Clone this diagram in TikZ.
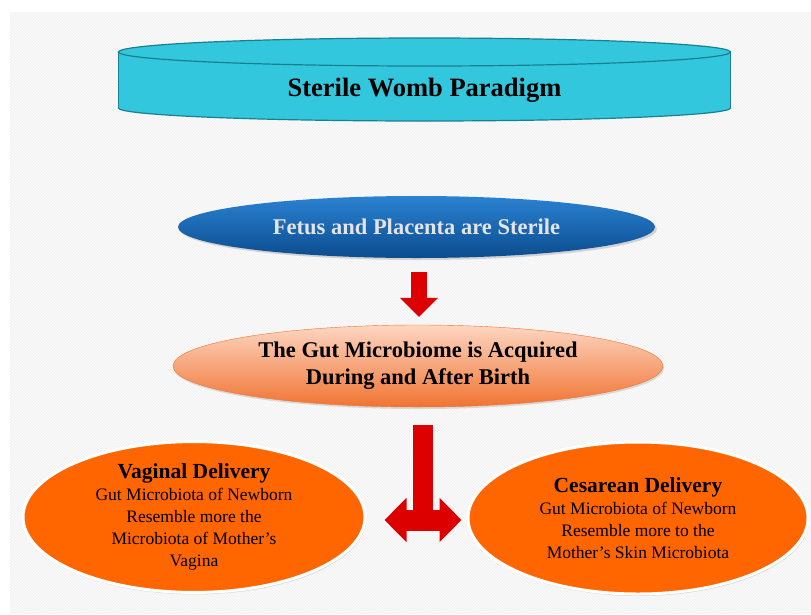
\documentclass[tikz,border=0pt]{standalone}
\usepackage{fontspec}
\setmainfont{Liberation Serif}
\usepackage{tikz}
\usetikzlibrary{shapes.geometric, arrows.meta, positioning, shadows, patterns}
\definecolor{bggray}{HTML}{F3F3F3}
\definecolor{wombcyan}{HTML}{33C7DD}
\definecolor{wombteal}{HTML}{1A7F92}
\definecolor{fetustop}{HTML}{2A82D2}
\definecolor{fetusbottom}{HTML}{0B4C8E}
\definecolor{fetustext}{HTML}{E4E4E4}
\definecolor{gutlight}{HTML}{FDD6C2}
\definecolor{gutorange}{HTML}{F07432}
\definecolor{deliveryorange}{HTML}{FF6600}
\definecolor{arrowred}{HTML}{DD0000}

\begin{document}
\begin{tikzpicture}[x=1pt, y=-1pt,
  oval/.style={ellipse, inner sep=0pt, align=center},
  bighead/.tip={Triangle[length=22pt, width=43pt]},
  deliverybox/.style={oval, fill=deliveryorange, draw=white, line width=3pt,
    drop shadow={opacity=0.25, shadow xshift=1pt, shadow yshift=-2pt},
    font=\fontsize{17.5}{22}\selectfont}]
  \useasboundingbox (0,0) rectangle (811,614);

  % Background
  \fill[white] (0,0) rectangle (811,614);
  \fill[bggray] (10,12) rectangle (811,614);
  \fill[pattern=north west lines, pattern color=white] (10,12) rectangle (811,614);

  % Cylinder
  \filldraw[fill=wombcyan, draw=wombteal, line width=1.2pt] (424.5,108) ellipse [x radius=306, y radius=13];
  \fill[wombcyan] (118.5,52) rectangle (730.5,108);
  \draw[wombteal, line width=1.2pt] (118.5,52) -- (118.5,108);
  \draw[wombteal, line width=1.2pt] (730.5,52) -- (730.5,108);
  \filldraw[fill=wombcyan, draw=wombteal, line width=1.2pt] (424.5,52) ellipse [x radius=306, y radius=14];
  \node[font=\fontsize{26.5}{30}\selectfont\bfseries] (paradigm) at (424.5,90) {Sterile Womb Paradigm};

  % Fetus and placenta
  \node[oval, minimum width=477pt, minimum height=62pt, top color=fetustop, bottom color=fetusbottom,
    drop shadow={opacity=0.3, shadow xshift=2pt, shadow yshift=-2pt},
    text=fetustext, font=\fontsize{22.5}{27}\selectfont\bfseries] (fetus) at (416.5,227) {Fetus and Placenta are Sterile};

  % Gut microbiome
  \node[oval, minimum width=490pt, minimum height=82pt, top color=gutlight, bottom color=gutorange,
    draw=gutorange, drop shadow={opacity=0.25, shadow xshift=1pt, shadow yshift=-2pt},
    font=\fontsize{22.5}{27}\selectfont\bfseries] (gut) at (418,366) {The Gut Microbiome is Acquired\\During and After Birth};

  % Delivery modes
  \node[deliverybox, minimum width=342pt, minimum height=150pt] (vaginal) at (194,517)
    {{\fontsize{21.5}{24}\selectfont\bfseries Vaginal Delivery}\\Gut Microbiota of Newborn\\Resemble more the\\Microbiota of Mother’s\\Vagina};
  \node[deliverybox, minimum width=340pt, minimum height=152pt] (cesarean) at (638,518)
    {{\fontsize{21.5}{24}\selectfont\bfseries Cesarean Delivery}\\Gut Microbiota of Newborn\\Resemble more to the\\Mother’s Skin Microbiota};

  % Arrows
  \draw[arrowred, line width=16pt, -{Triangle[length=19pt, width=37pt]}]
    ([xshift=2.5pt, yshift=-14pt]fetus.south) -- ([xshift=1pt, yshift=8pt]gut.north);
  \coordinate (split) at (423,520);
  \draw[arrowred, line width=20pt] ([xshift=5pt, yshift=-18pt]gut.south) -- (split);
  \draw[arrowred, line width=21pt, bighead-bighead]
    ([xshift=18pt]vaginal.east |- split) -- ([xshift=-5pt]cesarean.west |- split);
\end{tikzpicture}
\end{document}
